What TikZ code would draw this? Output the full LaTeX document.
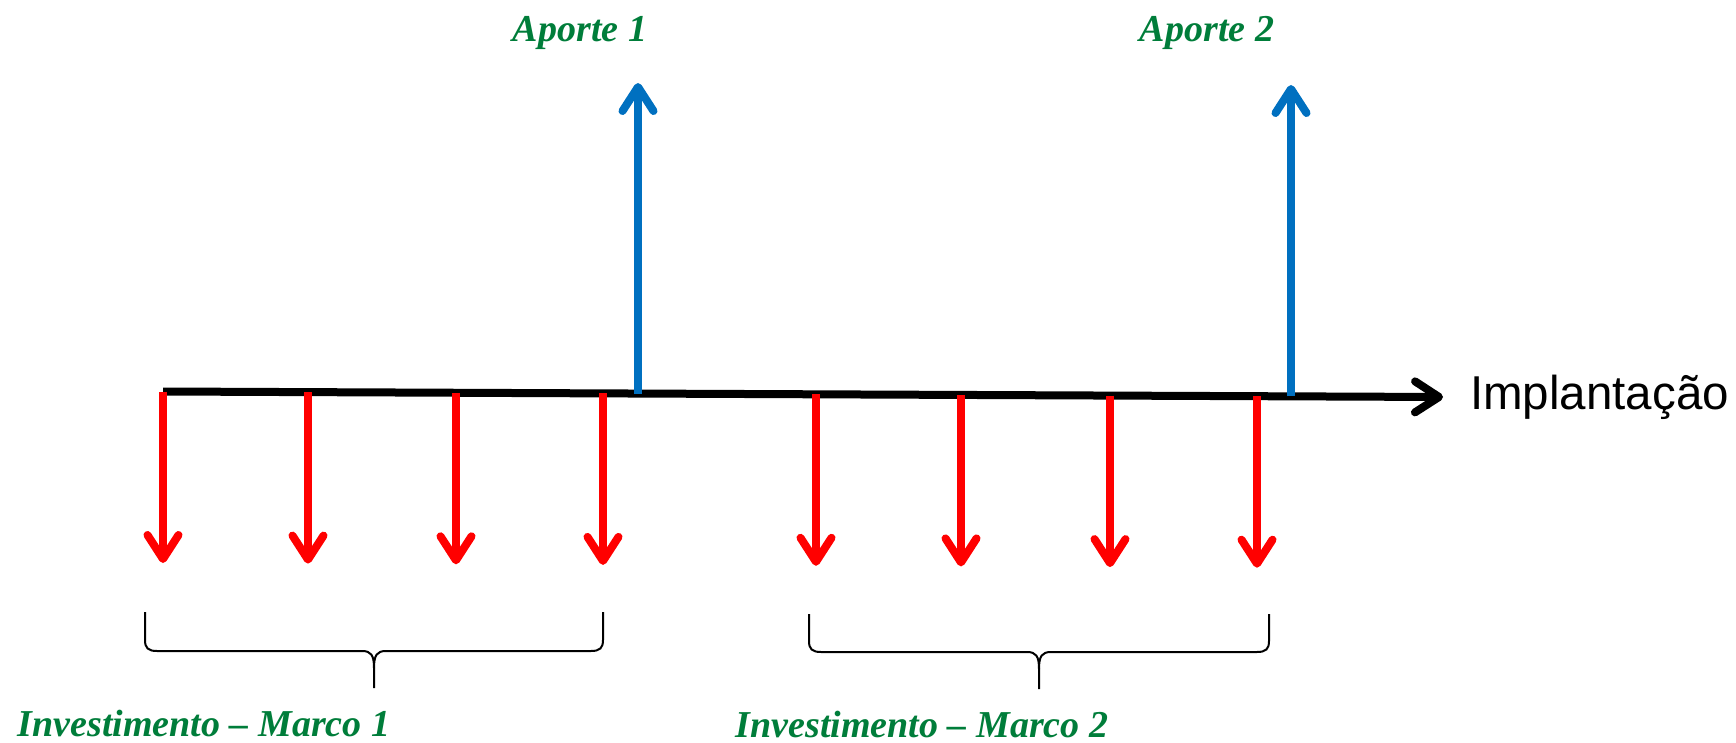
\documentclass[tikz,border=0pt]{standalone}
\usepackage{fontspec}
\setmainfont{Liberation Serif}
\newfontfamily\sansf{Liberation Sans}
\usetikzlibrary{arrows.meta,calc}
\definecolor{arrred}{RGB}{255,0,0}
\definecolor{arrblue}{RGB}{0,112,192}
\definecolor{lblgreen}{RGB}{0,125,58}
\tikzset{
  head/.style={-{Straight Barb[round,length=24pt,width=31pt]}},
  outflow/.style={head,draw=arrred,line width=8pt},
  inflow/.style={head,draw=arrblue,line width=8pt},
  timeaxis/.style={head,draw=black,line width=8pt},
  glabel/.style={text=lblgreen,font=\fontsize{38}{44}\selectfont\itshape\bfseries,inner sep=0pt},
  brace/.style={draw=black,line width=2pt},
}
\begin{document}
\begin{tikzpicture}[x=1pt,y=-1pt]
\useasboundingbox (0,0) rectangle (1736,743);
% axis
\coordinate (A) at (163,391.5);
\coordinate (B) at (1443,397);
\draw[timeaxis] (A) -- (B);
\node[anchor=base west,inner sep=0pt,font=\sansf\fontsize{47.5}{55}\selectfont] (impl) at (1470,409) {Implantação};
% red outflows
\foreach \n/\x/\y in {r1/163/391.5,r2/308/392.1,r3/456/392.8,r4/603/393.4,r5/816/394.3,r6/961/394.9,r7/1110/395.6,r8/1257/396.2}{
  \coordinate (\n t) at (\x,\y);
  \coordinate (\n b) at (\x,\y+171.5);
  \draw[outflow] (\n t) -- (\n b);
}
% blue inflows
\coordinate (b1b) at (638,393.5);
\coordinate (b1t) at (638,83);
\coordinate (b2b) at (1291,396.4);
\coordinate (b2t) at (1291,85);
\draw[inflow] (b1b) -- (b1t);
\draw[inflow] (b2b) -- (b2t);
% labels
\node[glabel,anchor=base] (ap1) at (580,42) {Aporte 1};
\node[glabel,anchor=base] (ap2) at (1207,42) {Aporte 2};
\node[glabel,anchor=base] (inv1) at (204,736) {Investimento – Marco 1};
\node[glabel,anchor=base] (inv2) at (922,737) {Investimento – Marco 2};
% braces
\coordinate (c1l) at (145,612);
\coordinate (c1r) at (603,612);
\coordinate (c1m) at (374,688);
\draw[brace] (c1l) -- (145,640) .. controls (145,648) and (148,651) .. (157,651) -- (362,651) .. controls (371,651) and (374,655) .. (374,668) -- (c1m);
\draw[brace] (c1r) -- (603,640) .. controls (603,648) and (600,651) .. (591,651) -- (386,651) .. controls (377,651) and (374,655) .. (374,668);
\coordinate (c2l) at (809,614);
\coordinate (c2r) at (1269,614);
\coordinate (c2m) at (1039,689);
\draw[brace] (c2l) -- (809,641) .. controls (809,649) and (812,652) .. (821,652) -- (1027,652) .. controls (1036,652) and (1039,656) .. (1039,669) -- (c2m);
\draw[brace] (c2r) -- (1269,641) .. controls (1269,649) and (1266,652) .. (1257,652) -- (1051,652) .. controls (1042,652) and (1039,656) .. (1039,669);
\end{tikzpicture}
\end{document}
